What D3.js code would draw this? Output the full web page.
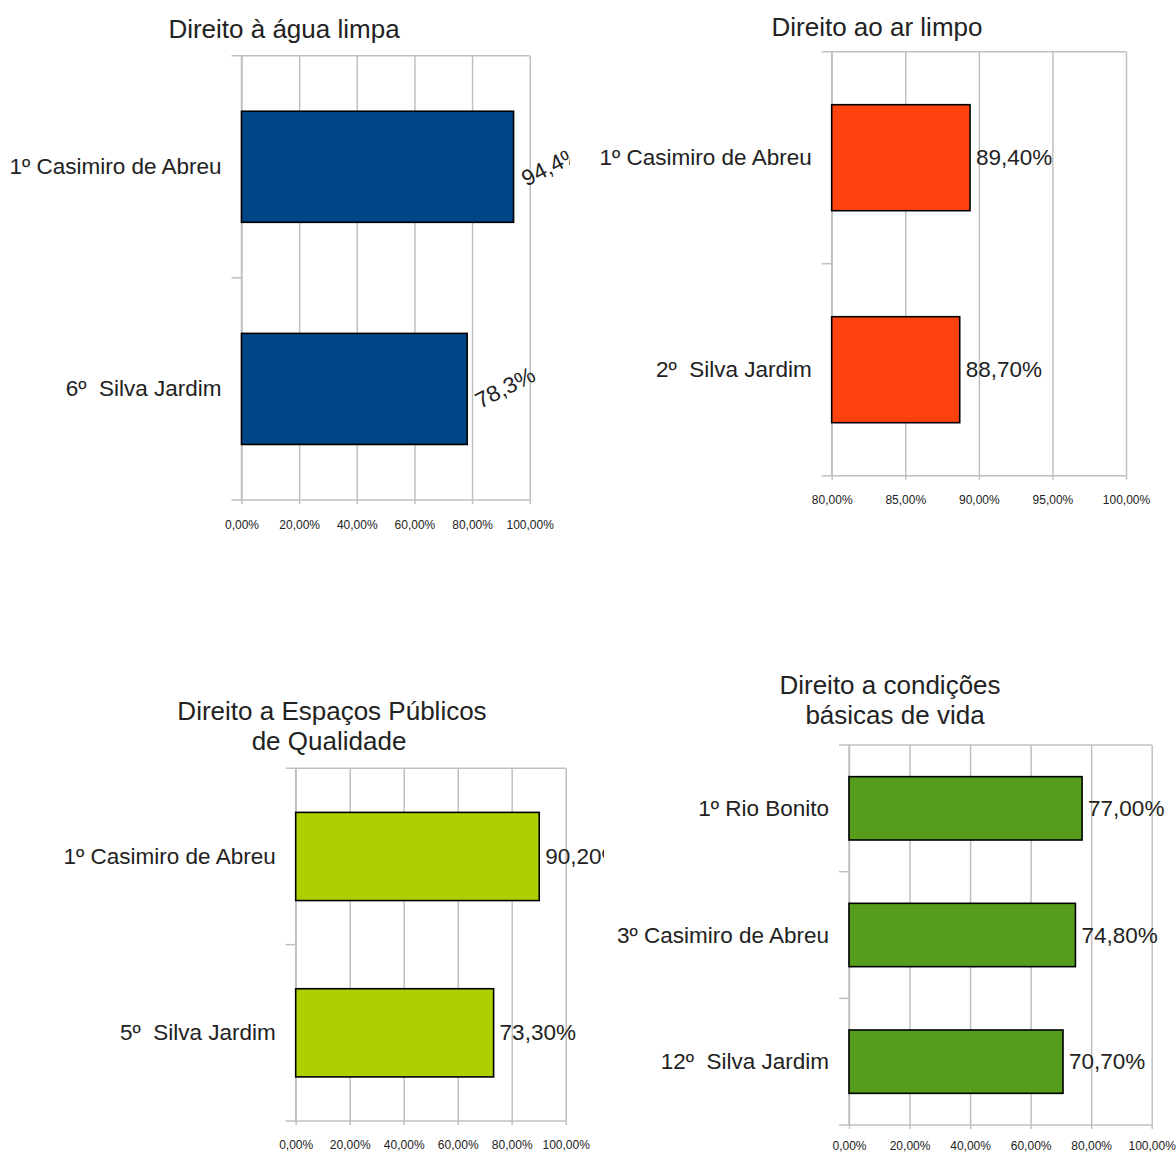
<html>
<head>
<meta charset="utf-8">
<script src="https://d3js.org/d3.v7.min.js"></script>
<style>
  body { margin: 0; background: #fff; }
  text { font-family: "Liberation Sans", Arial, sans-serif; fill: #222; white-space: pre; }
</style>
</head>
<body>
<svg id="chart" width="1176" height="1153"></svg>
<script>

// --- data ---
var aguaCategories = ["1º Casimiro de Abreu", "6º  Silva Jardim"];
var aguaValues = [94.4, 78.3];

var arCategories = ["1º Casimiro de Abreu", "2º  Silva Jardim"];
var arValues = [89.4, 88.7];

var espacosCategories = ["1º Casimiro de Abreu", "5º  Silva Jardim"];
var espacosValues = [90.2, 73.3];

var condicoesCategories = ["1º Rio Bonito", "3º Casimiro de Abreu", "12º  Silva Jardim"];
var condicoesValues = [77.0, 74.8, 70.7];

var ticksFull = [0, 20, 40, 60, 80, 100];
var ticksHigh = [80, 85, 90, 95, 100];

var svg = d3.select("#chart");

// comma decimal, like the original
function pct(d, digits) {
  return d.toFixed(digits).replace(".", ",") + "%";
}

function drawChart(opts, idx) {
  var g = svg.append("g");

  var x = d3.scaleLinear().domain(opts.domain).range([opts.left, opts.right]);
  var y = d3.scaleBand().domain(opts.categories)
    .range([opts.top, opts.bottom])
    .paddingInner(0.5).paddingOuter(0.25);
  var step = y.step();

  // title
  g.selectAll("text.title")
    .data(opts.title)
    .enter().append("text")
    .attr("class", "title")
    .attr("x", function (d, i) { return opts.titleX[i]; })
    .attr("y", function (d, i) { return opts.titleY + i * 30; })
    .attr("text-anchor", "middle")
    .attr("dominant-baseline", "central")
    .style("font-size", "26px")
    .text(function (d) { return d; });

  // vertical gridlines via axis
  var grid = d3.axisBottom(x).tickValues(opts.ticks)
    .tickSize(-(opts.bottom - opts.top)).tickFormat("");
  g.append("g")
    .attr("transform", "translate(0," + opts.bottom + ")")
    .call(grid)
    .call(function (s) {
      s.select(".domain").remove();
      s.selectAll("line").attr("stroke", "#c0c0c0").attr("stroke-width", 1.5);
    });

  var xAxis = d3.axisBottom(x).tickValues(opts.ticks)
    .tickSize(4).tickPadding(opts.tickPad)
    .tickFormat(function (d) { return pct(d, 2); });
  g.append("g")
    .attr("transform", "translate(0," + opts.bottom + ")")
    .call(xAxis)
    .call(function (s) {
      s.select(".domain").remove();
      s.selectAll("line").attr("stroke", "#c0c0c0").attr("stroke-width", 1.5);
      s.selectAll("text").style("font-size", "12px").attr("fill", "#333")
        .style("font-family", "'Liberation Sans', Arial, sans-serif");
    });

  // left axis with category separator stubs
  var bounds = d3.range(opts.categories.length + 1).map(function (i) {
    return opts.top + i * step;
  });
  g.selectAll("line.sep")
    .data(bounds)
    .enter().append("line")
    .attr("x1", opts.left - 10).attr("x2", function (d, i) {
      return (i === 0 || i === bounds.length - 1) ? opts.right : opts.left;
    })
    .attr("y1", function (d) { return d; }).attr("y2", function (d) { return d; })
    .attr("stroke", "#c0c0c0").attr("stroke-width", 1.5);
  g.append("line")
    .attr("x1", opts.left).attr("x2", opts.left)
    .attr("y1", opts.top).attr("y2", opts.bottom)
    .attr("stroke", "#c0c0c0").attr("stroke-width", 1.5);

  // category labels
  g.selectAll("text.cat")
    .data(opts.categories)
    .enter().append("text")
    .attr("class", "cat")
    .attr("x", opts.left - 20)
    .attr("y", function (d) { return y(d) + y.bandwidth() / 2; })
    .attr("text-anchor", "end")
    .attr("dominant-baseline", "central")
    .style("font-size", "22.5px")
    .text(function (d) { return d; });

  var rows = opts.categories.map(function (c, i) { return { cat: c, value: opts.values[i] }; });

  // bars
  g.selectAll("rect.bar")
    .data(rows)
    .enter().append("rect")
    .attr("class", "bar")
    .attr("x", x(opts.domain[0]))
    .attr("y", function (d) { return y(d.cat); })
    .attr("width", function (d) { return x(d.value) - x(opts.domain[0]); })
    .attr("height", y.bandwidth())
    .attr("fill", opts.color)
    .attr("stroke", "#000")
    .attr("stroke-width", 1.6);

  // value labels (clipped like the original export)
  var clipId = "clip" + idx;
  svg.append("clipPath").attr("id", clipId)
    .append("rect").attr("x", 0).attr("y", 0)
    .attr("width", opts.clipRight).attr("height", 1153);

  var labels = g.append("g").attr("clip-path", "url(#" + clipId + ")");
  labels.selectAll("text.val")
    .data(rows)
    .enter().append("text")
    .attr("class", "val")
    .style("font-size", "22.5px")
    .attr("transform", function (d) {
      var cx = x(d.value), cy = y(d.cat) + y.bandwidth() / 2;
      if (opts.rotate) {
        return "translate(" + (cx + 13) + "," + (cy + 20) + ") rotate(-27)";
      }
      return "translate(" + (cx + 6) + "," + cy + ")";
    })
    .attr("dominant-baseline", opts.rotate ? "auto" : "central")
    .text(function (d) { return pct(d.value, opts.digits); });
}

drawChart({
  title: ["Direito à água limpa"], titleX: [284], titleY: 29,
  categories: aguaCategories, values: aguaValues,
  domain: [0, 100], ticks: ticksFull, digits: 1, rotate: true,
  left: 241.5, right: 529.7, top: 55.7, bottom: 500, tickPad: 16,
  color: "#004586", clipRight: 570
}, 1);

drawChart({
  title: ["Direito ao ar limpo"], titleX: [877], titleY: 27,
  categories: arCategories, values: arValues,
  domain: [80, 100], ticks: ticksHigh, digits: 2, rotate: false,
  left: 831.7, right: 1126, top: 51.7, bottom: 475.7, tickPad: 16,
  color: "#ff420e", clipRight: 1176
}, 2);

drawChart({
  title: ["Direito a Espaços Públicos", "de Qualidade"], titleX: [332, 329], titleY: 711,
  categories: espacosCategories, values: espacosValues,
  domain: [0, 100], ticks: ticksFull, digits: 2, rotate: false,
  left: 295.7, right: 565.7, top: 768.3, bottom: 1121, tickPad: 15,
  color: "#aecf00", clipRight: 604
}, 3);

drawChart({
  title: ["Direito a condições", "básicas de vida"], titleX: [890, 895], titleY: 685,
  categories: condicoesCategories, values: condicoesValues,
  domain: [0, 100], ticks: ticksFull, digits: 2, rotate: false,
  left: 849, right: 1151.7, top: 745, bottom: 1125, tickPad: 12,
  color: "#579d1c", clipRight: 1176
}, 4);

</script>
</body>
</html>
